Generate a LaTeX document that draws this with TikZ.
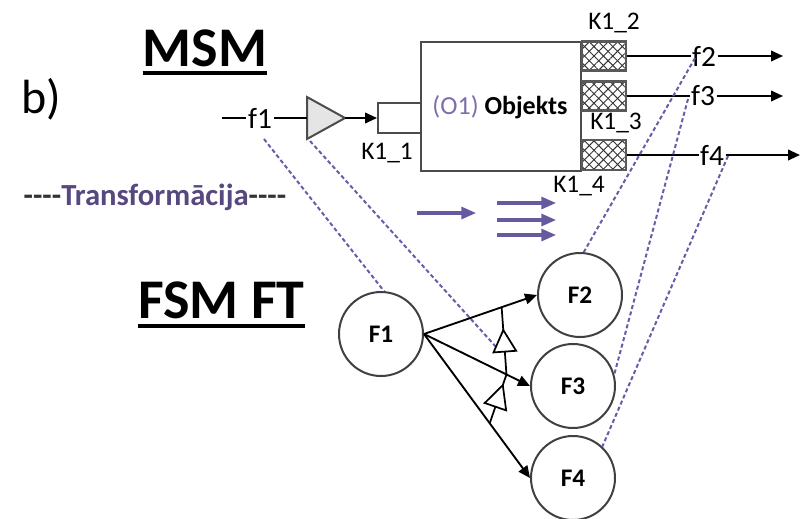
\documentclass[tikz,border=0pt]{standalone}
\usepackage{fontspec}
\setmainfont{Carlito}
\usetikzlibrary{arrows.meta,calc,patterns.meta}
\definecolor{dashpurple}{RGB}{108,90,168}
\definecolor{textpurple}{RGB}{88,72,128}
\definecolor{opurple}{RGB}{128,108,172}
\definecolor{arrowpurple}{RGB}{104,88,160}
\begin{document}
\begin{tikzpicture}[x=0.75pt,y=-0.75pt,
  lbl/.style={font=\fontsize{19}{19}\selectfont, inner sep=0pt},
  heading/.style={font=\fontsize{42}{42}\selectfont\bfseries, inner sep=0pt},
  flabel/.style={font=\fontsize{22}{22}\selectfont, fill=white, inner sep=1pt},
  fcircle/.style={circle, draw=black!75, line width=1.5pt, minimum size=63pt, inner sep=0pt, fill=white,
    font=\fontsize{19}{19}\selectfont\bfseries},
  transf/.style={draw=dashpurple, line width=1.5pt, dash pattern=on 3pt off 2pt},
  sig/.style={line width=1.4pt, -{Triangle[length=9pt,width=8pt]}},
  parrow/.style={draw=arrowpurple, line width=2.3pt, -{Triangle[length=11pt,width=9pt]}},
  uline/.style={line width=3pt},
  hatchbox/.style={minimum width=33pt, minimum height=21.75pt, inner sep=0pt, draw=black!65, line width=2pt,
    preaction={fill=white},
    preaction={pattern={Lines[angle=45,distance=5pt,line width=0.7pt]}, pattern color=black!80},
    preaction={pattern={Lines[angle=-45,distance=5pt,line width=0.7pt]}, pattern color=black!80}},
  gentri/.style={draw=black, line width=1.3pt, fill=white}
]
\useasboundingbox (0,0) rectangle (806,518);

% headings
\node[anchor=base west, inner sep=0pt, font=\fontsize{36}{36}\selectfont] (b) at (21,113) {b)};
\node[heading, anchor=base] (msm) at (205,66) {MSM};
\draw[uline] ([yshift=-5pt]msm.base west) -- ([yshift=-5pt]msm.base east);
\node[heading, anchor=base west] (fsm) at (138,318) {FSM FT};
\draw[uline] ([yshift=-6pt]fsm.base west) -- ([yshift=-6pt]fsm.base east);
\node[anchor=base, inner sep=0pt, font=\fontsize{23}{23}\selectfont\bfseries] (tr) at (155,205)
  {\textcolor{black!80}{{-}{-}{-}{-}}\textcolor{textpurple}{Transformācija}\textcolor{black!80}{{-}{-}{-}{-}}};

% MSM part
\coordinate (f1start) at (222,118);
\node[flabel] (f1) at (260,118) {f1};
\coordinate (ampt) at (307,97);
\coordinate (ampb) at (307,139);
\coordinate (amptip) at (345,118);
\draw[draw=black!70, line width=1.5pt, fill=black!10] (ampt) -- (amptip) -- (ampb) -- cycle;
\draw[line width=1.4pt] (f1start) -- (f1.west);
\draw[line width=1.4pt] (f1.east) -- (ampt |- amptip);
\node[draw=black!70, line width=1.5pt, minimum width=120pt, minimum height=96.75pt, inner sep=0pt] (obj) at (501,106.5) {};
\node[draw=black!70, line width=1.5pt, fill=white, minimum width=32.25pt, minimum height=22.5pt, inner sep=0pt] (k11) at (399.5,118) {};
\draw[sig] (amptip) -- (k11.west);
\node[font=\fontsize{19.5}{19.5}\selectfont, inner sep=0pt] (objtxt) at (500,107) {\textcolor{opurple}{(O1)} \textbf{Objekts}};
\node[lbl] (k11l) at (387,153) {K1\_1};

\node[hatchbox] (k12) at (604,56) {};
\node[hatchbox] (k13) at (604,96) {};
\node[hatchbox, minimum height=22.5pt] (k14) at (604,155) {};
\node[lbl] (k12l) at (614,23) {K1\_2};
\node[lbl] (k13l) at (616,123) {K1\_3};
\node[lbl] (k14l) at (579,186) {K1\_4};

\node[flabel] (f2) at (704,56) {f2};
\node[flabel] (f3) at (703,96) {f3};
\node[flabel] (f4) at (712,155) {f4};
\coordinate (f2end) at (783,56);
\coordinate (f3end) at (783,96);
\coordinate (f4end) at (800,155);
\draw[line width=1.4pt] (k12.east) -- (f2.west);
\draw[line width=1.4pt] (k13.east) -- (f3.west);
\draw[line width=1.4pt] (k14.east) -- (f4.west);
\draw[sig] (f2.east) -- (f2end);
\draw[sig] (f3.east) -- (f3end);
\draw[sig] (f4.east) -- (f4end);

% purple arrows
\coordinate (pa1s) at (417,213); \coordinate (pa1e) at (476,213);
\coordinate (pa2s) at (497,203); \coordinate (pa2e) at (556,203);
\coordinate (pa3s) at (497,220); \coordinate (pa3e) at (556,220);
\coordinate (pa4s) at (497,235); \coordinate (pa4e) at (556,235);
\draw[parrow] (pa1s) -- (pa1e);
\draw[parrow] (pa2s) -- (pa2e);
\draw[parrow] (pa3s) -- (pa3e);
\draw[parrow] (pa4s) -- (pa4e);

% FSM FT part
\node[fcircle] (F1) at (381,334) {F1};
\node[fcircle] (F2) at (580,295) {F2};
\node[fcircle] (F3) at (573,386) {F3};
\node[fcircle] (F4) at (573,478) {F4};

% transformation dashed lines
\coordinate (d1s) at (264,139);
\coordinate (d2s) at (310,141);
\coordinate (d2e) at (497,348);
\coordinate (d3s) at (695,58);
\coordinate (d4s) at (688,99);
\coordinate (d5s) at (728,156);
\draw[transf] (d1s) -- (F1.86);
\draw[transf] (d2s) -- (d2e);
\draw[transf] (d3s) -- (F2.85);
\draw[transf] (d4s) -- (F3.16);
\draw[transf] (d5s) -- (F4.47);

\draw[sig] (F1.east) -- (F2.west);
\draw[sig] (F1.east) -- (F3.west);
\draw[sig] (F1.east) -- (F4.west);

\coordinate (ga) at ($(F1.east)!0.687!(F2.west)$);
\coordinate (gm) at ($(F1.east)!0.778!(F3.west)$);
\coordinate (gb) at ($(F1.east)!0.62!(F4.west)$);
\draw[line width=1.3pt] (gm) -- (ga);
\draw[line width=1.3pt] (gb) -- (gm);
\coordinate (ta) at ($(gm)!0.66!(ga)$);
\coordinate (tac) at ($(gm)!0.34!(ga)$);
\draw[gentri] (ta) -- ($(tac)!8.5pt!90:(ta)$) -- ($(tac)!8.5pt!-90:(ta)$) -- cycle;
\coordinate (tb) at ($(gb)!0.78!(gm)$);
\coordinate (tbc) at ($(gb)!0.34!(gm)$);
\draw[gentri] (tb) -- ($(tbc)!8.5pt!90:(tb)$) -- ($(tbc)!8.5pt!-90:(tb)$) -- cycle;
\end{tikzpicture}
\end{document}
